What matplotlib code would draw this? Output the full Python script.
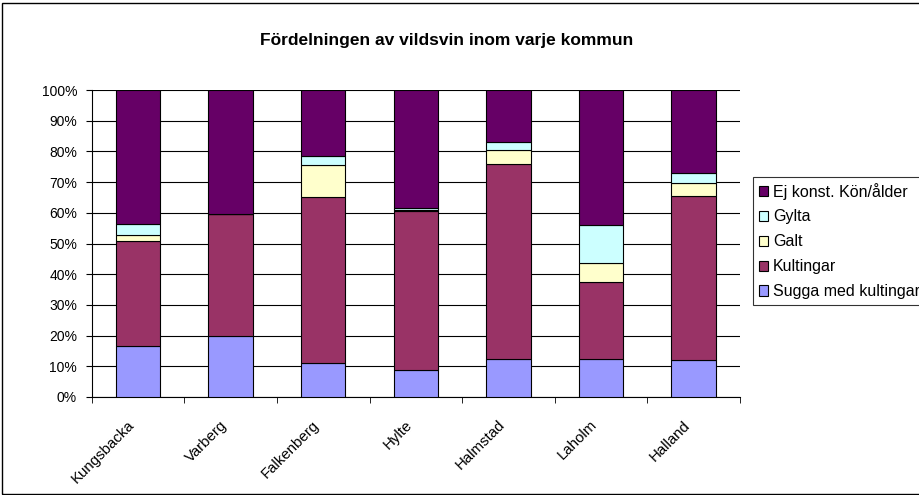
import matplotlib.pyplot as plt
import matplotlib.transforms as mtransforms
import numpy as np
from matplotlib.patches import Rectangle

plt.rcParams['font.family'] = ['Liberation Sans', 'DejaVu Sans']

kommuner = ["Kungsbacka", "Varberg", "Falkenberg", "Hylte", "Halmstad", "Laholm", "Halland"]
sugga = [16.7, 19.8, 11.0, 8.7, 12.3, 12.3, 12.0]
kultingar = [34.1, 39.9, 54.3, 51.8, 63.7, 25.0, 53.4]
galt = [2.0, 0.0, 10.4, 0.3, 4.5, 6.4, 4.3]
gylta = [3.5, 0.0, 2.8, 0.9, 2.4, 12.4, 3.2]
ej_konst = [43.7, 40.3, 21.5, 38.3, 17.1, 43.9, 27.1]

series = [
    ("Sugga med kultingar", sugga, "#9999FF"),
    ("Kultingar", kultingar, "#993366"),
    ("Galt", galt, "#FFFFCC"),
    ("Gylta", gylta, "#CCFFFF"),
    ("Ej konst. Kön/ålder", ej_konst, "#660066"),
]

fig = plt.figure(figsize=(9.19, 4.95), dpi=100)
ax = fig.add_axes([91.7 / 919, 98 / 495, (740 - 91.7) / 919, 307 / 495])

x = np.arange(len(kommuner))
bottom = np.zeros(len(kommuner))
handles = []
for name, vals, color in series:
    b = ax.bar(x, vals, 0.48, bottom=bottom, color=color, edgecolor="black",
               linewidth=0.8, label=name, zorder=3)
    handles.append(b)
    bottom += np.array(vals)

ax.set_ylim(0, 100)
ax.set_xlim(-0.5, len(kommuner) - 0.5)
ax.set_yticks(np.arange(0, 101, 10))
ax.set_yticklabels([f"{v}%" for v in range(0, 101, 10)], fontsize=10)
ax.yaxis.grid(True, color="black", linewidth=0.8, zorder=0)
ax.set_xticks(x)
ax.set_xticklabels(kommuner, rotation=45, ha="right", va="top",
                   rotation_mode="anchor", fontsize=10.8)
ax.tick_params(axis="x", length=0, pad=15)
# move the slanted labels a little to the left, as in the original
shift = mtransforms.ScaledTranslation(-8 / 72, 0, fig.dpi_scale_trans)
for lab in ax.get_xticklabels():
    lab.set_transform(lab.get_transform() + shift)
ax.set_xticks(np.arange(-0.5, len(kommuner)), minor=True)
ax.tick_params(axis="x", which="minor", length=4, direction="out", color="black")
ax.tick_params(axis="y", length=4, direction="out", color="black", pad=6.5)
for s in ["top", "right"]:
    ax.spines[s].set_visible(False)
ax.spines["left"].set_linewidth(0.8)
ax.spines["bottom"].set_linewidth(0.8)

fig.text(447 / 919, 1 - 40 / 495, "Fördelningen av vildsvin inom varje kommun",
         ha="center", va="center", fontsize=12.5, fontweight="bold")

leg = fig.legend(handles[::-1], [s[0] for s in series][::-1],
                 loc="upper left", bbox_to_anchor=(753 / 919, 1 - 177 / 495),
                 fontsize=11.5, frameon=True, fancybox=False, edgecolor="black",
                 handlelength=0.6, handleheight=0.6, handletextpad=0.3,
                 labelspacing=0.62, borderpad=0.35, borderaxespad=0)
leg.get_frame().set_linewidth(0.8)

fig.patches.append(Rectangle((1.5 / 919, 1.5 / 495), 1.2, 491 / 495,
                             transform=fig.transFigure, fill=False,
                             edgecolor="black", linewidth=1))

fig.savefig("out.png", dpi=100)
